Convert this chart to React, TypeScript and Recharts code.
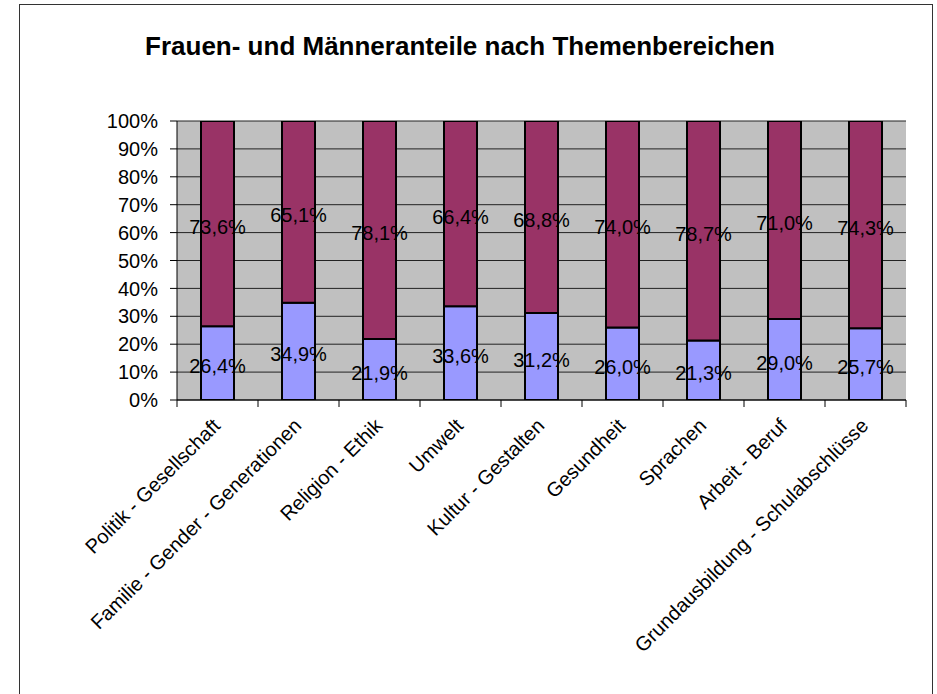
import React from 'react';
import { BarChart, Bar, XAxis, YAxis, CartesianGrid, LabelList } from 'recharts';

const categories = [
  'Politik - Gesellschaft',
  'Familie - Gender - Generationen',
  'Religion - Ethik',
  'Umwelt',
  'Kultur - Gestalten',
  'Gesundheit',
  'Sprachen',
  'Arbeit - Beruf',
  'Grundausbildung - Schulabschlüsse',
];
const frauen = [26.4, 34.9, 21.9, 33.6, 31.2, 26.0, 21.3, 29.0, 25.7];
const maenner = [73.6, 65.1, 78.1, 66.4, 68.8, 74.0, 78.7, 71.0, 74.3];
const yTicks = [0, 10, 20, 30, 40, 50, 60, 70, 80, 90, 100];

const data = categories.map((name, i) => ({ name, frauen: frauen[i], maenner: maenner[i] }));

const FONT = 'Arial, "Liberation Sans", sans-serif';

const fmt = (v: any) => `${Number(v).toFixed(1).replace('.', ',')}%`;

const XTick = (props: any) => {
  const { x, y, payload, index, visibleTicksCount } = props;
  const off = payload.offset ?? 40;
  const last = index === visibleTicksCount - 1;
  return (
    <g>
      <line x1={x - off} y1={y} x2={x - off} y2={y + 7} stroke="#000" />
      {last && <line x1={x + off} y1={y} x2={x + off} y2={y + 7} stroke="#000" />}
      <text
        x={x + 4}
        y={y + 27}
        textAnchor="end"
        fontSize={20}
        fontFamily={FONT}
        fill="#000"
        transform={`rotate(-45, ${x + 4}, ${y + 27})`}
      >
        {payload.value}
      </text>
    </g>
  );
};

export default function App() {
  return (
    <div style={{ position: 'absolute', left: 0, top: 0, width: 937, height: 694, overflow: 'hidden', background: '#fff' }}>
      <div
        style={{
          position: 'absolute',
          left: 19,
          top: 4,
          width: 914,
          height: 720,
          border: '1px solid #333',
          boxSizing: 'border-box',
        }}
      />
      <svg style={{ position: 'absolute', left: 0, top: 0 }} width={937} height={80}>
        <text x={460} y={55} textAnchor="middle" fontSize={26} fontWeight="bold" fontFamily={FONT} fill="#000">
          Frauen- und Männeranteile nach Themenbereichen
        </text>
      </svg>
      <div style={{ position: 'absolute', left: 0, top: 0 }}>
        <BarChart
          width={937}
          height={694}
          data={data}
          margin={{ top: 121, right: 31, left: 60, bottom: 94 }}
          barCategoryGap={0}
        >
          <CartesianGrid vertical={false} fill="#C0C0C0" stroke="#222" fillOpacity={1} />
          <XAxis
            dataKey="name"
            interval={0}
            height={200}
            tickSize={0}
            tickMargin={0}
            tickLine={false}
            axisLine={{ stroke: '#000' }}
            tick={<XTick />}
          />
          <YAxis
            domain={[0, 100]}
            ticks={yTicks}
            interval={0}
            width={117}
            tickSize={7}
            tickMargin={12}
            tickFormatter={(v) => `${v}%`}
            tick={{ fill: '#000', fontSize: 20, fontFamily: FONT }}
            axisLine={{ stroke: '#000' }}
            tickLine={{ stroke: '#000' }}
            allowDataOverflow
          />
          <YAxis
            yAxisId="r"
            orientation="right"
            width={0}
            tick={false}
            tickLine={false}
            axisLine={{ stroke: '#808080' }}
          />
          <Bar dataKey="frauen" stackId="a" fill="#9999FF" stroke="#000" strokeWidth={2} barSize={33} isAnimationActive={false}>
            <LabelList dataKey="frauen" position="center" formatter={fmt} fill="#000" fontSize={20} fontFamily={FONT} dy={3} />
          </Bar>
          <Bar dataKey="maenner" stackId="a" fill="#993366" stroke="#000" strokeWidth={2} barSize={33} isAnimationActive={false}>
            <LabelList dataKey="maenner" position="center" formatter={fmt} fill="#000" fontSize={20} fontFamily={FONT} dy={3} />
          </Bar>
        </BarChart>
      </div>
    </div>
  );
}
